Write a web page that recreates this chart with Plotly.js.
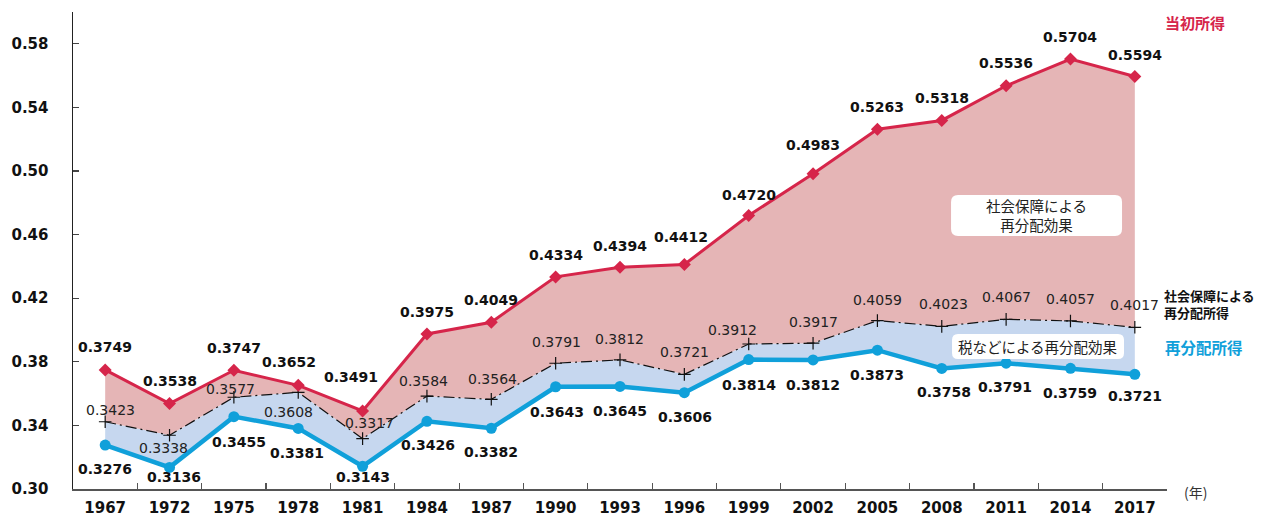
<!DOCTYPE html>
<html><head><meta charset="utf-8">
<script src="https://cdn.plot.ly/plotly-3.0.1.min.js"></script>
<style>html,body{margin:0;padding:0;background:#fff}#chart{width:1266px;height:518px}</style>
</head><body><div id="chart"></div>
<script>
// ---- data ----
const years = ["1967","1972","1975","1978","1981","1984","1987","1990","1993","1996","1999","2002","2005","2008","2011","2014","2017"];
const initialIncome = [0.3749,0.3538,0.3747,0.3652,0.3491,0.3975,0.4049,0.4334,0.4394,0.4412,0.4720,0.4983,0.5263,0.5318,0.5536,0.5704,0.5594];
const afterSocialSecurity = [0.3423,0.3338,0.3577,0.3608,0.3317,0.3584,0.3564,0.3791,0.3812,0.3721,0.3912,0.3917,0.4059,0.4023,0.4067,0.4057,0.4017];
const redistributedIncome = [0.3276,0.3136,0.3455,0.3381,0.3143,0.3426,0.3382,0.3643,0.3645,0.3606,0.3814,0.3812,0.3873,0.3758,0.3791,0.3759,0.3721];
const yTicks = [0.30,0.34,0.38,0.42,0.46,0.50,0.54,0.58];

// ---- label pixel offsets (style only) ----
const redDy  = [23,22,22,23,34,22,22,22,21,27,21,29,22,22,23,22,22];
const redDx  = [0,0,0,-9,-12,0,0,0,0,-3,0,0,0,0,0,0,0];
const blkDy  = [12,-13,8,-20,16,15,20,21,21,22,14,21,21,22,22,22,22];
const blkDx  = [5,-6,-3,-10,7,-3,1,1,-1,0,-16,0,0,2,0,0,0];
const bluDy  = [-24,-10,-25,-25,-11,-24,-24,-25,-25,-24,-25,-25,-25,-24,-24,-25,-22];
const bluDx  = [0,4,5,-1,0,1,0,1,0,1,0,0,0,2,-1,0,0];

const RED = '#D6254A', BLUE = '#10A0DA';
const numFont = 'DejaVu Sans, Verdana, sans-serif';
const jpFont = 'Noto Sans CJK JP, sans-serif';

const traces = [
  {x: years, y: redistributedIncome, type:'scatter', mode:'lines+markers',
   line:{color:BLUE, width:4.5}, marker:{symbol:'circle', size:11, color:BLUE},
   hoverinfo:'skip', showlegend:false},
  {x: years, y: afterSocialSecurity, type:'scatter', mode:'lines+markers', fill:'tonexty',
   fillcolor:'#C6D7EF',
   line:{color:'#111', width:1.2, dash:'11px,4px,2px,4px'},
   marker:{symbol:'cross-thin-open', size:9, line:{color:'#111', width:1.2}},
   hoverinfo:'skip', showlegend:false},
  {x: years, y: initialIncome, type:'scatter', mode:'lines+markers', fill:'tonexty',
   fillcolor:'#E5B5B6',
   line:{color:RED, width:3}, marker:{symbol:'diamond', size:10, color:RED},
   hoverinfo:'skip', showlegend:false}
];

const annotations = [];
years.forEach((yr,i)=>{
  annotations.push({xref:'x', yref:'y', x:i, y:initialIncome[i], text:initialIncome[i].toFixed(4), showarrow:false,
    xshift:redDx[i], yshift:redDy[i], font:{family:numFont, size:14, color:'#111', weight:'bold'}});
  annotations.push({xref:'x', yref:'y', x:i, y:afterSocialSecurity[i], text:afterSocialSecurity[i].toFixed(4), showarrow:false,
    xshift:blkDx[i], yshift:blkDy[i], font:{family:numFont, size:14, color:'#222'}});
  annotations.push({xref:'x', yref:'y', x:i, y:redistributedIncome[i], text:redistributedIncome[i].toFixed(4), showarrow:false,
    xshift:bluDx[i], yshift:bluDy[i], font:{family:numFont, size:14, color:'#111', weight:'bold'}});
});
annotations.push(
  {xref:'paper', yref:'paper', x:0.9963, y:0.977, xanchor:'left', yanchor:'middle', showarrow:false,
   text:'当初所得', font:{family:jpFont, size:15, color:RED, weight:'bold'}},
  {xref:'paper', yref:'paper', x:0.9954, y:0.388, xanchor:'left', yanchor:'middle', showarrow:false, align:'left',
   text:'社会保障による<br>再分配所得', font:{family:jpFont, size:13, color:'#111', weight:'bold'}},
  {xref:'paper', yref:'paper', x:0.9963, y:0.2977, xanchor:'left', yanchor:'middle', showarrow:false,
   text:'再分配所得', font:{family:jpFont, size:15.5, color:BLUE, weight:'bold'}},
  {xref:'paper', yref:'paper', x:1.0135, y:-0.006, xanchor:'left', yanchor:'middle', showarrow:false,
   text:'(年)', font:{family:jpFont, size:14, color:'#333'}},
  {xref:'paper', yref:'paper', x:0.8807, y:0.5734, xanchor:'center', yanchor:'middle', showarrow:false,
   text:'社会保障による<br>再分配効果',
   font:{family:jpFont, size:14.5, color:'#222'}},
  {xref:'paper', yref:'paper', x:0.882, y:0.2987, xanchor:'center', yanchor:'middle', showarrow:false,
   text:'税などによる再分配効果',
   font:{family:jpFont, size:14.5, color:'#222'}}
);

// rounded white label boxes (paper coordinates)
const plotW = 1094, plotH = 477;
function roundRect(x0,x1,y0,y1,r){
  const rx = r/plotW, ry = r/plotH;
  return 'M'+(x0+rx)+','+y0+' L'+(x1-rx)+','+y0+' Q'+x1+','+y0+' '+x1+','+(y0+ry)+
    ' L'+x1+','+(y1-ry)+' Q'+x1+','+y1+' '+(x1-rx)+','+y1+
    ' L'+(x0+rx)+','+y1+' Q'+x0+','+y1+' '+x0+','+(y1-ry)+
    ' L'+x0+','+(y0+ry)+' Q'+x0+','+y0+' '+(x0+rx)+','+y0+' Z';
}
const shapes = [
  {type:'path', xref:'paper', yref:'paper', path:roundRect(0.8026,0.9589,0.5304,0.6164,7), fillcolor:'#fff', line:{width:0}, layer:'above'},
  {type:'path', xref:'paper', yref:'paper', path:roundRect(0.8035,0.9607,0.2725,0.3249,6), fillcolor:'#fff', line:{width:0}, layer:'above'}
];

const layout = {
  width:1266, height:518,
  margin:{l:73, r:99, t:12, b:29},
  paper_bgcolor:'#fff', plot_bgcolor:'#fff',
  showlegend:false,
  xaxis:{type:'category', range:[-0.5,16.5], showgrid:false, zeroline:false,
    showline:true, linecolor:'#555', linewidth:1.5,
    ticks:'inside', tickson:'boundaries', ticklen:6, tickcolor:'#555', tickwidth:1.2,
    ticklabelstandoff:4,
    tickfont:{family:numFont, size:15, color:'#111', weight:'bold'}},
  yaxis:{range:[0.30,0.60], tickvals:yTicks, ticktext:yTicks.map(v=>v.toFixed(2)),
    showgrid:false, zeroline:false, showline:true, linecolor:'#222', linewidth:1.5,
    ticks:'inside', ticklen:6, tickcolor:'#444', tickwidth:1.2, ticklabelstandoff:20,
    tickfont:{family:numFont, size:15, color:'#111', weight:'bold'}},
  shapes: shapes,
  annotations: annotations
};
Plotly.newPlot('chart', traces, layout, {staticPlot:true, displayModeBar:false});
</script></body></html>
